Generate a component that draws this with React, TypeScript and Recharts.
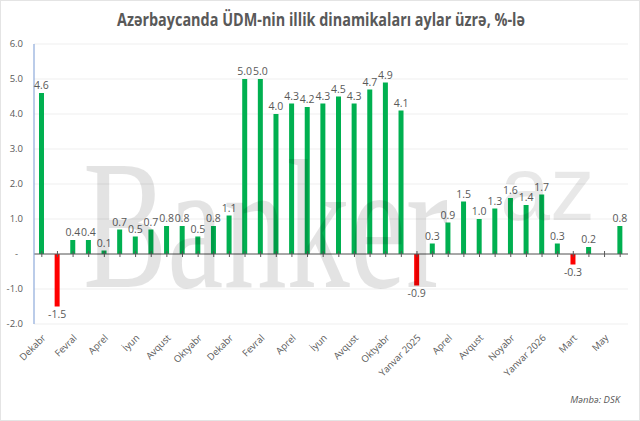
import React from 'react';
import {
  ComposedChart,
  Bar,
  Line,
  Cell,
  XAxis,
  YAxis,
  CartesianGrid,
  ReferenceLine,
  LabelList,
} from 'recharts';

// Month labels (only every other one is printed on the axis)
const months: string[] = [
  'Dekabr', 'Yanvar 2023', 'Fevral', 'Mart', 'Aprel', 'May', 'İyun', 'İyul',
  'Avqust', 'Sentyabr', 'Oktyabr', 'Noyabr', 'Dekabr', 'Yanvar 2024', 'Fevral',
  'Mart', 'Aprel', 'May', 'İyun', 'İyul', 'Avqust', 'Sentyabr', 'Oktyabr',
  'Noyabr', 'Yanvar 2025', 'Mart', 'Aprel', 'İyun', 'Avqust', 'Sentyabr',
  'Noyabr', 'Dekabr', 'Yanvar 2026', 'Fevral', 'Mart', 'Aprel', 'May', 'İyun',
];

// Annual GDP change, %
const gdpChange: number[] = [
  4.6, -1.5, 0.4, 0.4, 0.1, 0.7, 0.5, 0.7, 0.8, 0.8, 0.5, 0.8, 1.1,
  5.0, 5.0, 4.0, 4.3, 4.2, 4.3, 4.5, 4.3, 4.7, 4.9, 4.1,
  -0.9, 0.3, 0.9, 1.5, 1.0, 1.3, 1.6, 1.4, 1.7, 0.3, -0.3, 0.2, 0, 0.8,
];

const yTicks: number[] = [-2, -1, 0, 1, 2, 3, 4, 5, 6];

const TITLE = 'Azərbaycanda ÜDM-nin illik dinamikaları aylar üzrə, %-lə';
const SOURCE = 'Mənbə: DSK';

const GREEN = '#00B050';
const RED = '#FF0000';
const TEXT = '#595959';
const FONT = '"Open Sans", "Noto Sans", sans-serif';

const rows = gdpChange.map((v, i) => ({ key: String(i), value: v, zero: 0 }));

const fmtValue = (v: any) => {
  const n = Number(v);
  return n === 0 ? '-' : n.toFixed(1);
};

const fmtAxis = (v: number) => (v === 0 ? '-\u00A0\u00A0' : v.toFixed(1));

const MonthTick = (props: any) => {
  const { x, y, index } = props;
  if (index % 2 !== 0) return <g />;
  const ax = x + 2;
  const ay = y + 4;
  return (
    <text
      x={ax}
      y={ay}
      transform={`rotate(-45, ${ax}, ${ay})`}
      textAnchor="end"
      dominantBaseline="central"
      fontSize={9.5}
      fontFamily={FONT}
      fill={TEXT}
    >
      {months[index]}
    </text>
  );
};

// small cross ticks on the zero line at each category
const ZeroTick = (props: any) => {
  const { cx, cy, index } = props;
  return (
    <line
      key={`zt-${index}`}
      x1={cx}
      x2={cx}
      y1={cy - 3}
      y2={cy + 3}
      stroke={TEXT}
      strokeWidth={1}
    />
  );
};

export default function App() {
  return (
    <div
      style={{
        position: 'fixed',
        left: 0,
        top: 0,
        width: 640,
        height: 421,
        background: '#fff',
        boxSizing: 'border-box',
        border: '1px solid #e4e4e4',
        overflow: 'hidden',
      }}
    >
      <div style={{ position: 'absolute', left: -1, top: -1 }}>
        <ComposedChart
          width={640}
          height={421}
          data={rows}
          margin={{ top: 44, right: 12, bottom: 37, left: 4 }}
        >
          <CartesianGrid vertical={false} stroke="#EFEFEF" />
          <XAxis
            dataKey="key"
            interval={0}
            axisLine={false}
            tickLine={false}
            height={60}
            tick={<MonthTick />}
          />
          <YAxis
            width={30}
            domain={[-2, 6]}
            ticks={yTicks}
            tickFormatter={fmtAxis}
            axisLine={{ stroke: '#8EAADB', strokeWidth: 1.2 }}
            tickLine={false}
            tickSize={6}
            tickMargin={5}
            tick={{ fontSize: 9.5, fill: TEXT, fontFamily: FONT }}
          />
          <Bar dataKey="value" barSize={5} isAnimationActive={false}>
            {rows.map((r) => (
              <Cell key={r.key} fill={r.value < 0 ? RED : GREEN} />
            ))}
            <LabelList
              dataKey="value"
              position="top"
              offset={4}
              formatter={fmtValue}
              fill={TEXT}
              fontSize={10.5}
              fontFamily={FONT}
            />
          </Bar>
          <ReferenceLine y={0} stroke={TEXT} strokeWidth={1} />
          <Line
            dataKey="zero"
            stroke="none"
            dot={ZeroTick}
            activeDot={false}
            isAnimationActive={false}
          />
        </ComposedChart>
      </div>

      <svg
        width={640}
        height={421}
        style={{ position: 'absolute', left: -1, top: -1, pointerEvents: 'none' }}
      >
        <text
          x={321}
          y={26}
          textAnchor="middle"
          fontFamily='"Liberation Sans Narrow", "Open Sans", sans-serif'
          fontWeight={700}
          fontSize={17}
          fill={TEXT}
          textLength={408}
          lengthAdjust="spacingAndGlyphs"
        >
          {TITLE}
        </text>
        <text
          x={620}
          y={403}
          textAnchor="end"
          fontFamily={FONT}
          fontStyle="italic"
          fontSize={9.5}
          fill={TEXT}
        >
          {SOURCE}
        </text>
        {/* watermark */}
        <text
          x={83}
          y={287}
          fontFamily='"Liberation Serif", "DejaVu Serif", serif'
          fontSize={185}
          fill="#000"
          fillOpacity={0.11}
          textLength={365}
          lengthAdjust="spacingAndGlyphs"
        >
          Banker
        </text>
        <text
          x={500}
          y={220}
          fontFamily='"Liberation Sans", sans-serif'
          fontSize={90}
          fill="#000"
          fillOpacity={0.09}
        >
          az
        </text>
      </svg>
    </div>
  );
}
